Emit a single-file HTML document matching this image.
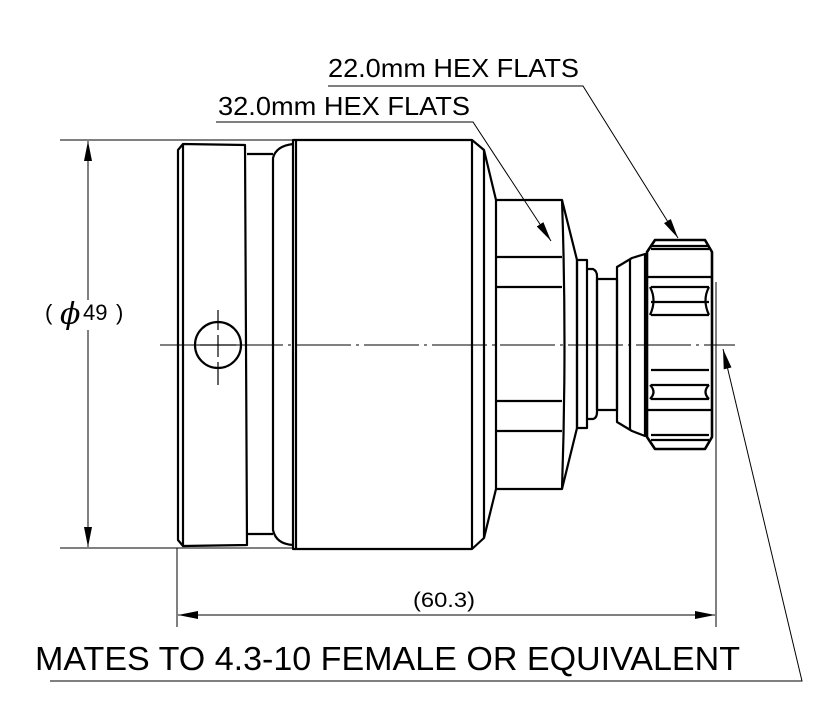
<!DOCTYPE html>
<html><head><style>html,body{margin:0;padding:0;background:#fff}svg{display:block}</style></head>
<body>
<svg width="835" height="713" viewBox="0 0 835 713" xmlns="http://www.w3.org/2000/svg" font-family="Liberation Sans, sans-serif">
<defs>
<marker id="a" viewBox="0 0 20 8" refX="20" refY="4" markerWidth="20" markerHeight="8" markerUnits="userSpaceOnUse" orient="auto"><path d="M0,0 L20,4 L0,8 z" fill="#000"/></marker>
</defs>
<g fill="none" stroke="#000" stroke-width="1">
<line x1="60" y1="140" x2="293" y2="140"/>
<line x1="60" y1="548" x2="293" y2="548"/>
<line x1="88" y1="300" x2="88" y2="141" marker-end="url(#a)"/>
<line x1="88" y1="330" x2="88" y2="547" marker-end="url(#a)"/>
<line x1="177" y1="548" x2="177" y2="627"/>
<line x1="716" y1="282" x2="716" y2="627"/>
<line x1="440" y1="615" x2="178" y2="615" marker-end="url(#a)"/>
<line x1="440" y1="615" x2="715" y2="615" marker-end="url(#a)"/>
<polyline points="328,86 583,86 678,238" marker-end="url(#a)"/>
<polyline points="216,122 473,122 551,241" marker-end="url(#a)"/>
<polyline points="50,681 802,681 723,349" marker-end="url(#a)"/>
<line x1="160" y1="345" x2="735" y2="345" stroke-dasharray="55,5,3,5"/>
</g>
<g fill="none" stroke="#000" stroke-width="2.2" stroke-linejoin="round">
<path d="M183,144 L245,145 L247,545 L183,546 L178,540 L178,150 Z"/>
<line x1="183" y1="145" x2="183" y2="545"/>
<line x1="247" y1="154" x2="273" y2="154"/>
<line x1="247" y1="534" x2="273" y2="534"/>
<path d="M293,144 Q276,146 273,158 L273,530 Q276,544 293,545"/>
<path d="M293,140 L472,140 L484,150 L496,200 L496,489 L484,538 L472,549 L293,549 Z"/>
<line x1="296" y1="140" x2="296" y2="549"/>
<line x1="472" y1="140" x2="472" y2="549"/>
<line x1="484" y1="150" x2="484" y2="538"/>
<path d="M496,200 L562,200 L577,260 L577,428 L562,489 L496,489"/>
<line x1="496" y1="257" x2="562" y2="257"/>
<line x1="496" y1="287" x2="562" y2="287"/>
<line x1="496" y1="401" x2="562" y2="401"/>
<line x1="496" y1="431" x2="562" y2="431"/>
<path d="M562,200 Q567,344 562,489"/>
<rect x="577" y="260" width="10" height="168"/>
<path d="M587,269 L593,269 Q597,271 597,276 L597,412 Q597,418 593,419 L587,419"/>
<rect x="597" y="279" width="20" height="131"/>
<path d="M617,267 L632,258 L645,254 L645,436 L632,431 L617,422 Z"/>
<line x1="630" y1="260" x2="630" y2="430"/>
<path d="M655,240 L705,240 L712,252 L712,437 L705,449 L655,449 L647,437 L647,252 Z" stroke-width="2.6"/>
<line x1="651" y1="246" x2="709" y2="246"/>
<line x1="651" y1="249" x2="709" y2="249"/>
<line x1="647" y1="277" x2="712" y2="277"/>
<line x1="651" y1="287" x2="709" y2="287"/>
<line x1="651" y1="302" x2="709" y2="302"/>
<line x1="651" y1="315" x2="709" y2="315"/>
<line x1="651" y1="370" x2="709" y2="370"/>
<line x1="651" y1="385" x2="709" y2="385"/>
<line x1="651" y1="399" x2="709" y2="399"/>
<line x1="647" y1="410" x2="712" y2="410"/>
<line x1="651" y1="435" x2="709" y2="435"/>
<line x1="651" y1="440" x2="709" y2="440"/>
<path d="M650,287 Q657,300 650,315 M709,287 Q702,300 709,315 M650,385 Q657,392 650,399 M709,385 Q702,392 709,399"/>
<circle cx="218" cy="345" r="23"/>
</g>
<g stroke="#000" stroke-width="1.2">
<line x1="218" y1="310" x2="218" y2="330"/>
<line x1="218" y1="335" x2="218" y2="357"/>
<line x1="218" y1="362" x2="218" y2="385"/>
<line x1="200" y1="345" x2="236" y2="345"/>
</g>
<g fill="#000">
<text x="328" y="77" font-size="26" textLength="251" lengthAdjust="spacingAndGlyphs">22.0mm HEX FLATS</text>
<text x="218" y="115" font-size="26" textLength="252" lengthAdjust="spacingAndGlyphs">32.0mm HEX FLATS</text>
<text x="45" y="320" font-size="22">(</text>
<text x="60" y="324" font-size="30" font-style="italic" font-family="DejaVu Serif, serif">ϕ</text>
<text x="83" y="320" font-size="22">49</text>
<text x="116" y="320" font-size="22">)</text>
<text x="413" y="607" font-size="21" textLength="62" lengthAdjust="spacingAndGlyphs">(60.3)</text>
<text x="35" y="670" font-size="33" textLength="705" lengthAdjust="spacingAndGlyphs">MATES TO 4.3-10 FEMALE OR EQUIVALENT</text>
</g>
</svg>
</body></html>
